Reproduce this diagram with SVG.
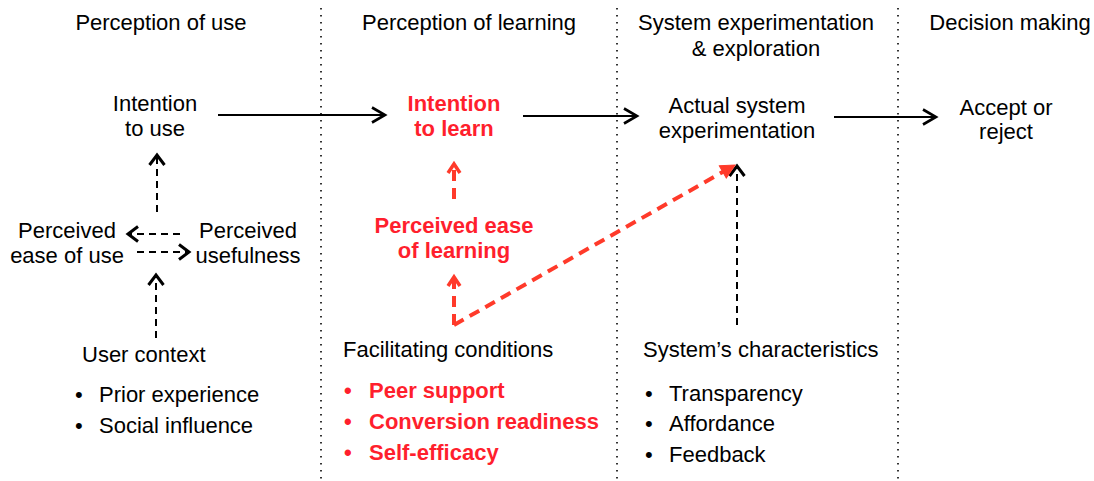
<svg xmlns="http://www.w3.org/2000/svg" width="1094" height="481" viewBox="0 0 1094 481">
<style>
text{font-family:"Liberation Sans",Arial,sans-serif;font-size:22px;fill:#000}
.c{text-anchor:middle}
.r{fill:#ff1f2d;font-weight:bold}
.sep{stroke:#333;stroke-width:2;stroke-dasharray:1.6 5.4;fill:none}
.solid{stroke:#000;stroke-width:2;fill:none;marker-end:url(#chev)}
.bd{stroke:#000;stroke-width:2;stroke-dasharray:7 5;fill:none;marker-end:url(#chevs)}
.rd{stroke:#ff3a2a;stroke-width:4;stroke-dasharray:11 7;fill:none}
</style>
<defs>
<marker id="chev" markerUnits="userSpaceOnUse" markerWidth="20" markerHeight="20" viewBox="-16 -10 20 20" refX="0" refY="0" orient="auto">
<path d="M-13,-7.5 L0,0 L-13,7.5" fill="none" stroke="#000" stroke-width="2.6"/>
</marker>
<marker id="chevs" markerUnits="userSpaceOnUse" markerWidth="20" markerHeight="20" viewBox="-16 -10 20 20" refX="0" refY="0" orient="auto">
<path d="M-10,-7.5 L0,0 L-10,7.5" fill="none" stroke="#000" stroke-width="3"/>
</marker>
<marker id="rchev" markerUnits="userSpaceOnUse" markerWidth="20" markerHeight="20" viewBox="-16 -10 20 20" refX="0" refY="0" orient="auto">
<path d="M-9,-6 L0,0 L-9,6" fill="none" stroke="#ff3a2a" stroke-width="3.5"/>
</marker>
<marker id="rtri" markerUnits="userSpaceOnUse" markerWidth="24" markerHeight="24" viewBox="-20 -12 24 24" refX="0" refY="0" orient="auto">
<path d="M-14,-7 L0,0 L-14,7 Z" fill="#ff3a2a" stroke="#ff3a2a" stroke-width="1"/>
</marker>
</defs>

<g id="separators">
<line class="sep" x1="321" y1="8" x2="321" y2="481"/>
<line class="sep" x1="617" y1="8" x2="617" y2="481"/>
<line class="sep" x1="898" y1="8" x2="898" y2="481"/>
</g>

<g id="headers">
<text class="c" x="161" y="30">Perception of use</text>
<text class="c" x="469" y="30">Perception of learning</text>
<text class="c" x="756" y="30">System experimentation</text>
<text class="c" x="756" y="56">&amp; exploration</text>
<text class="c" x="1010" y="30">Decision making</text>
</g>

<g id="connectors">
<path class="solid" d="M218,115 H385"/>
<path class="solid" d="M523,116 H637"/>
<path class="solid" d="M834,117 H936"/>
<path class="bd" d="M157,212 V155"/>
<path class="bd" d="M180,234 H128"/>
<path class="bd" d="M137,252 H189"/>
<path class="bd" d="M156,338 V275"/>
<path class="bd" d="M737,325 V166"/>
<path class="rd" d="M454,199 V164" marker-end="url(#rchev)"/>
<path class="rd" d="M454,325 V277" marker-end="url(#rchev)"/>
<path class="rd" d="M454,325 L735,165" marker-end="url(#rtri)"/>
</g>

<g id="intention-to-use">
<text class="c" x="155" y="111">Intention</text>
<text class="c" x="155" y="136">to use</text>
</g>
<g id="perceived-ease-of-use">
<text class="c" x="67" y="238">Perceived</text>
<text class="c" x="67" y="263">ease of use</text>
</g>
<g id="perceived-usefulness">
<text class="c" x="248" y="238">Perceived</text>
<text class="c" x="248" y="263">usefulness</text>
</g>
<g id="user-context">
<text x="82" y="362">User context</text>
<text x="75" y="402">•</text><text x="99" y="402">Prior experience</text>
<text x="75" y="433">•</text><text x="99" y="433">Social influence</text>
</g>

<g id="intention-to-learn">
<text class="c r" x="454" y="111">Intention</text>
<text class="c r" x="454" y="136">to learn</text>
</g>
<g id="perceived-ease-of-learning">
<text class="c r" x="454" y="233">Perceived ease</text>
<text class="c r" x="454" y="258">of learning</text>
</g>
<g id="facilitating-conditions">
<text x="343" y="357">Facilitating conditions</text>
<text class="r" x="344" y="398">•</text><text class="r" x="369" y="398">Peer support</text>
<text class="r" x="344" y="429">•</text><text class="r" x="369" y="429">Conversion readiness</text>
<text class="r" x="344" y="460">•</text><text class="r" x="369" y="460">Self-efficacy</text>
</g>

<g id="actual-system-experimentation">
<text class="c" x="737" y="113">Actual system</text>
<text class="c" x="737" y="138">experimentation</text>
</g>
<g id="systems-characteristics">
<text x="643" y="357">System’s characteristics</text>
<text x="645" y="401">•</text><text x="669" y="401">Transparency</text>
<text x="645" y="431">•</text><text x="669" y="431">Affordance</text>
<text x="645" y="462">•</text><text x="669" y="462">Feedback</text>
</g>

<g id="accept-or-reject">
<text class="c" x="1006" y="115">Accept or</text>
<text class="c" x="1006" y="139">reject</text>
</g>
</svg>
